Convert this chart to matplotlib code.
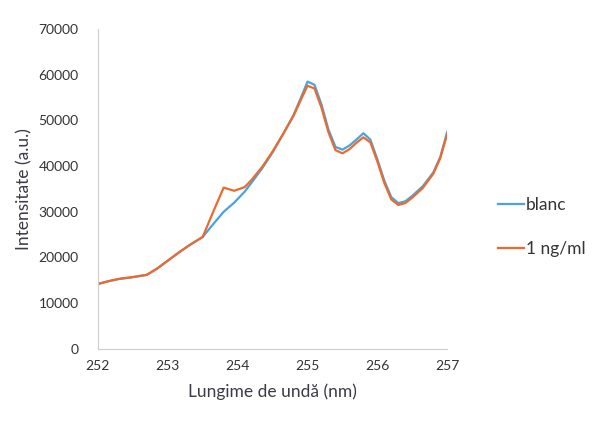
import numpy as np
import matplotlib.pyplot as plt

plt.rcParams['font.family'] = ['Lato', 'DejaVu Sans']

# wavelength (nm) and intensity
wl = [252.0, 252.15, 252.3, 252.5, 252.7, 252.85, 253.0, 253.15, 253.3, 253.5,
      253.65, 253.8, 253.95, 254.1, 254.2, 254.35, 254.5, 254.65, 254.8, 254.92,
      255.0, 255.1, 255.2, 255.3, 255.4, 255.5, 255.6, 255.7, 255.8, 255.9,
      256.0, 256.1, 256.2, 256.3, 256.4, 256.5, 256.65, 256.8, 256.9, 257.0]
blanc = [14200, 14800, 15300, 15700, 16200, 17600, 19300, 21000, 22600, 24500,
         27300, 30000, 32000, 34400, 36400, 39500, 43000, 47000, 51200, 55500,
         58500, 57800, 53500, 48000, 44200, 43600, 44500, 45800, 47200, 45800,
         41500, 36800, 33200, 31900, 32300, 33500, 35600, 38600, 42000, 47500]
ng1 = [14200, 14800, 15300, 15700, 16200, 17600, 19300, 21000, 22600, 24500,
       30000, 35300, 34600, 35400, 37000, 39800, 43200, 47000, 51000, 55000,
       57600, 57000, 52800, 47400, 43500, 42800, 43700, 45100, 46300, 45200,
       41000, 36300, 32700, 31500, 31900, 33100, 35200, 38300, 41700, 47000]

fig = plt.figure(figsize=(6.16, 4.28), dpi=100)
ax = fig.add_axes([0.159, 0.185, 0.567, 0.747])

ax.plot(wl, blanc, color='#4aa3df', lw=1.6, label='blanc')
ax.plot(wl, ng1, color='#ec6a2c', lw=1.6, label='1 ng/ml')

ax.set_xlim(252, 257)
ax.set_ylim(0, 70000)
ax.set_xticks(np.arange(252, 258, 1))
ax.set_yticks(np.arange(0, 70001, 10000))
ax.tick_params(length=0, labelsize=10, colors='#333333', pad=8)
ax.tick_params(axis='y', pad=14)

for s in ['top', 'right']:
    ax.spines[s].set_visible(False)
ax.spines['left'].set_color('#cccccc')
ax.spines['bottom'].set_color('#cccccc')

ax.set_xlabel('Lungime de undă (nm)', fontsize=12.5, color='#3a3a48', labelpad=8)
ax.set_ylabel('Intensitate (a.u.)', fontsize=12.5, color='#3a3a48', labelpad=4)

ax.legend(loc='center left', bbox_to_anchor=(1.1, 0.38), frameon=False,
          fontsize=12.5, handlelength=1.5, handletextpad=0.1, labelspacing=1.6,
          labelcolor='#333333')

fig.savefig('out.png', dpi=100)
